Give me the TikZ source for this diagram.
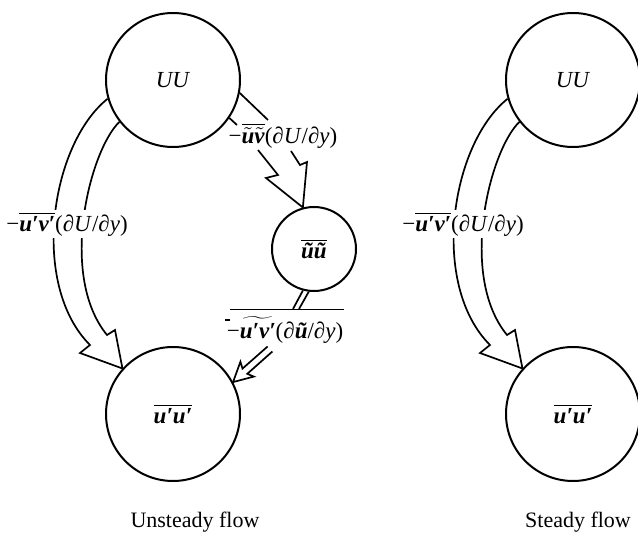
\documentclass[tikz,border=0pt]{standalone}
\usepackage{fontspec}
\setmainfont{Liberation Serif}
\newcommand{\bi}[1]{\textbf{\textit{#1}}}
\newcommand{\ol}[1]{$\overline{\hbox{#1}}$}
\newcommand{\wt}[1]{$\widetilde{\hbox{#1}}$}
\newcommand{\tl}[1]{$\tilde{\hbox{#1}}$}
\begin{document}
\begin{tikzpicture}[x=0.5pt,y=-0.5pt]
\tikzset{
 bub/.style={circle,draw,line width=1pt,minimum size=67pt,inner sep=0pt,font=\fontsize{11.5}{13}\selectfont},
 smallbub/.style={bub,minimum size=42pt},
 flowline/.style={line width=0.85pt,line join=miter},
 lab/.style={inner sep=1pt,font=\fontsize{11.5}{13}\selectfont},
 captext/.style={inner sep=0pt,font=\fontsize{11}{13}\selectfont}
}
\useasboundingbox (0,0) rectangle (638,534);
% circles
\node[bub] (UUa) at (173,80) {\textit{UU}};
\node[bub] (uua) at (173,414) {\ol{\bi{u′u′}}};
\node[smallbub] (tt) at (314,249) {\ol{\bi{ũũ}}};
\node[bub] (UUb) at (573,80) {\textit{UU}};
\node[bub] (uub) at (573,414) {\ol{\bi{u′u′}}};
% big curved arrow, unsteady
\draw[flowline] (UUa.196.9) .. controls (50,145) and (30,285) .. (90,345) -- (80,353) -- (uua.138.6) -- (115,330) -- (107,335) .. controls (58,275) and (90,150) .. (UUa.218.4);
\node[lab,fill=white] (la) at (67,224) {−\ol{\bi{u′v′}}(∂\textit{U}/∂\textit{y})};
% big curved arrow, steady
\draw[flowline] (UUb.196.9) .. controls (450,145) and (430,285) .. (490,345) -- (480,353) -- (uub.138.6) -- (515,330) -- (507,335) .. controls (458,275) and (490,150) .. (UUb.218.4);
\node[lab,fill=white] (lr) at (463,224) {−\ol{\bi{u′v′}}(∂\textit{U}/∂\textit{y})};
% zigzag arrow UU -> coherent
\draw[flowline] (UUa.-34.6) -- (237,125);
\draw[flowline] (UUa.-11) -- (268,120);
\draw[flowline] (258,150) -- (278,175) -- (266,178) -- (tt.105) -- (307,162) -- (300,165) -- (291,151);
\node[lab,inner sep=0pt] (lt) at (283,136) {−\ol{\tl{\bi{u}}\tl{\bi{v}}}(∂\textit{U}/∂\textit{y})};
% double arrow coherent -> u'u'
\draw[flowline] (tt.255) -- (293,309);
\draw[flowline] (tt.263) -- (299,309);
\draw[line width=0.7pt] (230,309.5) -- (344,309.5);
\draw[line width=0.6pt] (225,320) -- (230,320);
\node[lab,inner sep=0pt] (lb) at (285,330) {−\wt{\bi{u′v′}}(∂\bi{ũ}/∂\textit{y})};
\draw[flowline] (267.6,346.5) -- (242.5,368.6) -- (240.4,361.8) -- (uua.28) -- (253.8,376.6) -- (247.3,373.8) -- (272.4,351.5);
% captions
\node[captext] (capa) at (195,522) {Unsteady flow};
\node[captext] (capb) at (578,522) {Steady flow};
\end{tikzpicture}
\end{document}
